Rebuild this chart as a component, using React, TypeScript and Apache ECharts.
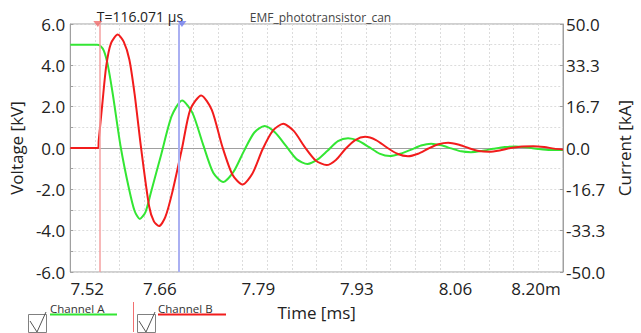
import React, { useEffect, useRef } from 'react';
import * as echarts from 'echarts';

// ---- data ----
const timeMin = 7.52;
const timeMax = 8.2;
const timeStep = 0.034;
const xTickLabels = ['7.52', '7.66', '7.79', '7.93', '8.06', '8.20m'];
const voltTickLabels = ['-6.0', '-4.0', '-2.0', '0.0', '2.0', '4.0', '6.0'];
const currentTickLabels = ['-50.0', '-33.3', '-16.7', '0.0', '16.7', '33.3', '50.0'];

// Channel A : voltage [kV]
const channelA: [number, number][] = [
  [7.52, 5.0], [7.5569, 5.0], [7.561, 4.96], [7.5664, 4.7], [7.5719, 4.0], [7.5787, 2.6],
  [7.5896, 0.05], [7.6012, -2.0], [7.6088, -3.05], [7.616, -3.43], [7.6238, -3.1],
  [7.6313, -2.15], [7.6456, -0.3], [7.66, 1.55], [7.6743, 2.3], [7.6886, 1.7],
  [7.703, 0.2], [7.7173, -1.2], [7.7312, -1.64], [7.7453, -1.15], [7.7596, -0.15],
  [7.774, 0.75], [7.788, 1.06], [7.8027, 0.75], [7.8177, 0.1], [7.8327, -0.55],
  [7.8473, -0.77], [7.8614, -0.55], [7.875, -0.13], [7.8894, 0.33], [7.9033, 0.47],
  [7.9174, 0.35], [7.9324, 0.04], [7.9467, -0.27], [7.9611, -0.39], [7.9754, -0.28],
  [7.9897, -0.09], [8.0041, 0.12], [8.018, 0.21], [8.0321, 0.13], [8.0457, -0.02],
  [8.0594, -0.16], [8.073, -0.2], [8.088, -0.14], [8.1037, -0.04], [8.1194, 0.05],
  [8.1341, 0.07], [8.1495, 0.03], [8.1659, -0.05], [8.1823, -0.1], [8.2, -0.1],
];

// Channel B : current [kA]
const channelB: [number, number][] = [
  [7.52, 0], [7.5586, 0], [7.5592, 2.75], [7.5644, 18.3], [7.5696, 33.0], [7.576, 42.1],
  [7.5855, 45.75], [7.5937, 42.9], [7.6015, 35.7], [7.6088, 21.7], [7.6174, 0.75],
  [7.6288, -23.5], [7.6354, -29.6], [7.6425, -31.5], [7.6511, -27.9], [7.6606, -18.1],
  [7.6743, 0], [7.6856, 15.5], [7.7007, 21.2], [7.7153, 15.4], [7.7296, 0.8],
  [7.7439, -10.8], [7.7576, -14.75], [7.7712, -10.4], [7.7856, -0.4], [7.7999, 7.1],
  [7.814, 9.75], [7.8286, 6.8], [7.8436, 0.4], [7.8586, -5.0], [7.8737, -6.9],
  [7.8866, -4.8], [7.8996, -0.4], [7.9133, 3.2], [7.9269, 4.5], [7.9419, 3.2],
  [7.957, 0.2], [7.9713, -2.3], [7.986, -3.3], [8.0, -2.3], [8.0143, -0.2],
  [8.028, 1.5], [8.0416, 2.1], [8.0553, 1.4], [8.0696, 0], [8.0839, -1.2],
  [8.0976, -1.5], [8.1126, -1.0], [8.1276, 0], [8.144, 0.6], [8.159, 0.75],
  [8.1741, 0.4], [8.1877, -0.25], [8.2, -0.6],
];

const cursorTimes = [7.558, 7.674071];
const cursorLabel = 'T=116.071 µs';
const seriesNames = ['Channel A', 'Channel B'];

const FONT = 'Open Sans';
const GREEN = '#33e633';
const RED = '#f21c1c';
const AXIS = '#a0a0a0';
const GRID = '#dcdcdc';

export default function App() {
  const ref = useRef<HTMLDivElement>(null);

  useEffect(() => {
    if (!ref.current) return;
    const chart = echarts.init(ref.current, undefined, { renderer: 'svg' });

    const tickRich = (pad: number[]) => ({
      fontFamily: FONT,
      fontSize: 17,
      lineHeight: 14,
      color: '#222',
      padding: pad,
    });

    const option: any = {
      animation: false,
      backgroundColor: '#ffffff',
      textStyle: { fontFamily: FONT },
      title: {
        text: 'EMF_phototransistor_can',
        left: 'center',
        top: 6,
        textStyle: { fontFamily: FONT, fontSize: 12, fontWeight: 'normal', color: '#444' },
      },
      grid: {
        left: 67,
        right: 76,
        top: 24,
        bottom: 61,
        show: true,
        borderColor: AXIS,
        borderWidth: 1,
        backgroundColor: 'transparent',
      },
      xAxis: {
        type: 'value',
        min: timeMin,
        max: timeMax,
        interval: timeStep,
        name: 'Time [ms]',
        nameLocation: 'middle',
        nameGap: 32,
        nameTextStyle: { fontFamily: FONT, fontSize: 17, color: '#222' },
        axisLine: { show: true, lineStyle: { color: AXIS } },
        axisTick: { show: false },
        splitLine: { show: true, lineStyle: { color: GRID, type: [2, 2] } },
        axisLabel: {
          showMinLabel: true,
          showMaxLabel: true,
          margin: 9,
          color: '#222',
          fontFamily: FONT,
          fontSize: 17,
          lineHeight: 14,
          formatter: (v: number) => {
            const idx = Math.round((v - timeMin) / timeStep);
            if (idx % 4 !== 0) return '';
            const k = idx / 4;
            const t = xTickLabels[k] ?? '';
            if (k === 0) return '{f|' + t + '}';
            if (k === xTickLabels.length - 1) return '{l|' + t + '}';
            return '{m|' + t + '}';
          },
          rich: {
            f: tickRich([0, 0, 0, 34]),
            m: tickRich([0, 18, 0, 0]),
            l: tickRich([0, 54, 0, 0]),
          },
        },
      },
      yAxis: [
        {
          type: 'value',
          min: -6,
          max: 6,
          interval: 1,
          position: 'left',
          name: 'Voltage [kV]',
          nameLocation: 'middle',
          nameRotate: 90,
          nameGap: 38,
          nameTextStyle: { fontFamily: FONT, fontSize: 17, color: '#222' },
          axisLine: { show: true, lineStyle: { color: AXIS } },
          axisTick: { show: true, inside: true, length: 3, lineStyle: { color: AXIS } },
          splitLine: { show: true, lineStyle: { color: GRID, type: [2, 2] } },
          axisLabel: {
            showMinLabel: true,
            showMaxLabel: true,
            margin: 5,
            color: '#222',
            fontFamily: FONT,
            fontSize: 17,
            formatter: (v: number) => {
              const r = Math.round(v);
              if (r % 2 !== 0) return '';
              return voltTickLabels[(r + 6) / 2] ?? '';
            },
          },
        },
        {
          type: 'value',
          min: -50,
          max: 50,
          interval: 100 / 6,
          position: 'right',
          name: 'Current [kA]',
          nameLocation: 'middle',
          nameRotate: 90,
          nameGap: 46,
          nameTextStyle: { fontFamily: FONT, fontSize: 17, color: '#222' },
          axisLine: { show: true, lineStyle: { color: AXIS } },
          axisTick: { show: true, inside: true, length: 3, lineStyle: { color: AXIS } },
          splitLine: { show: false },
          axisLabel: {
            showMinLabel: true,
            showMaxLabel: true,
            margin: 3,
            color: '#222',
            fontFamily: FONT,
            fontSize: 17,
            formatter: (v: number) => {
              const idx = Math.round((v + 50) / (100 / 6));
              return currentTickLabels[idx] ?? '';
            },
          },
        },
      ],
      series: [
        {
          name: 'cursors',
          type: 'scatter',
          yAxisIndex: 0,
          z: 1,
          symbol: 'triangle',
          symbolRotate: 180,
          symbolSize: [9, 6],
          silent: true,
          clip: false,
          data: cursorTimes.map((t, i) => ({
            value: [t, 6],
            itemStyle: { color: i === 0 ? '#f06a6a' : '#6f7cf0' },
          })),
          markLine: {
            silent: true,
            symbol: ['none', 'none'],
            label: { show: false },
            data: cursorTimes.map((t, i) => ({
              xAxis: t,
              lineStyle: {
                color: i === 0 ? '#f5a0a0' : '#aab0f2',
                width: i === 0 ? 1.5 : 2,
                type: 'solid',
              },
            })),
          },
          markArea: {
            silent: true,
            itemStyle: { color: 'rgba(0,0,0,0)' },
            label: {
              show: true,
              position: 'top',
              distance: 1,
              formatter: cursorLabel,
              fontFamily: FONT,
              fontSize: 14,
              color: '#222',
            },
            data: [[{ xAxis: cursorTimes[0] }, { xAxis: cursorTimes[1] }]],
          },
        },
        {
          name: seriesNames[0],
          type: 'line',
          yAxisIndex: 0,
          z: 3,
          data: channelA,
          showSymbol: false,
          smooth: 0.25,
          lineStyle: { color: GREEN, width: 2 },
          itemStyle: { color: GREEN },
        },
        {
          name: seriesNames[1],
          type: 'line',
          yAxisIndex: 1,
          z: 4,
          data: channelB,
          showSymbol: false,
          smooth: 0.25,
          lineStyle: { color: RED, width: 2 },
          itemStyle: { color: RED },
        },
      ],
      graphic: [
        // legend item A
        { type: 'rect', shape: { x: 28.5, y: 314.5, width: 18, height: 18 }, style: { fill: '#fff', stroke: '#808080', lineWidth: 1 } },
        { type: 'polyline', shape: { points: [[30, 321], [37, 332], [46, 312]] }, style: { stroke: '#555', lineWidth: 1, fill: 'none' } },
        { type: 'text', x: 50, y: 302, style: { text: seriesNames[0], fontFamily: FONT, fontSize: 11.5, fill: '#333' } },
        { type: 'line', shape: { x1: 50, y1: 314.5, x2: 117, y2: 314.5 }, style: { stroke: GREEN, lineWidth: 2 } },
        // legend item B
        { type: 'line', shape: { x1: 133.5, y1: 302, x2: 133.5, y2: 332 }, style: { stroke: '#f27070', lineWidth: 1 } },
        { type: 'rect', shape: { x: 137.5, y: 314.5, width: 18, height: 18 }, style: { fill: '#fff', stroke: '#808080', lineWidth: 1 } },
        { type: 'polyline', shape: { points: [[139, 321], [146, 332], [155, 312]] }, style: { stroke: '#555', lineWidth: 1, fill: 'none' } },
        { type: 'text', x: 158, y: 302, style: { text: seriesNames[1], fontFamily: FONT, fontSize: 11.5, fill: '#333' } },
        { type: 'line', shape: { x1: 158, y1: 314.5, x2: 226, y2: 314.5 }, style: { stroke: RED, lineWidth: 2 } },
      ],
    };

    chart.setOption(option);
    return () => chart.dispose();
  }, []);

  return (
    <div
      ref={ref}
      style={{ position: 'fixed', left: 0, top: 0, width: 641, height: 333, background: '#fff' }}
    />
  );
}
